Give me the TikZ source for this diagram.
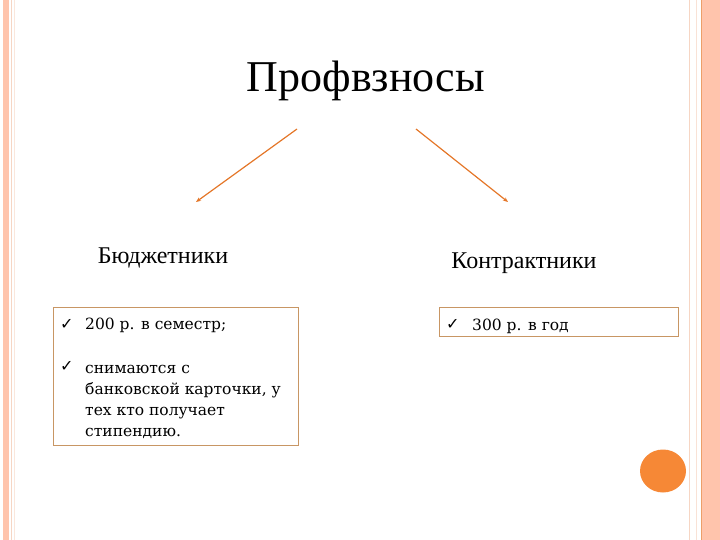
\documentclass[tikz,border=0pt]{standalone}
\usepackage{fontspec}
\setmainfont{Liberation Serif}
\newfontfamily\boxfont{DejaVu Serif}
\newfontfamily\chkfont{DejaVu Sans}
\usepackage{tikz}
\usetikzlibrary{arrows.meta,shapes.geometric}

\definecolor{salmon}{RGB}{255,196,172}
\definecolor{paleline}{RGB}{246,214,196}
\definecolor{arroworange}{RGB}{228,118,40}
\definecolor{boxline}{RGB}{200,150,100}
\definecolor{dotorange}{RGB}{246,136,54}
\newcommand{\chk}{{\chkfont\char"2713}}

\begin{document}
\begin{tikzpicture}[x=1pt,y=-1pt,
    heading/.style={anchor=base,inner sep=0pt,font=\fontsize{24}{28}\selectfont},
    itembox/.style={shape=rectangle,draw=boxline,line width=0.8pt,anchor=north west,inner sep=0pt},
    itemtext/.style={anchor=base west,inner sep=0pt,font=\boxfont\fontsize{15.5}{21.4}\selectfont},
    checkmark/.style={anchor=base west,inner sep=0pt,font=\fontsize{16}{18}\selectfont},
    toarrow/.style={draw=arroworange,line width=1.2pt,-{Stealth[length=5pt,width=4pt]}}]
    \useasboundingbox (0,0) rectangle (720,540);
    % page frame
    \fill[salmon] (3,0) rectangle (9,540);
    \draw[paleline,line width=1pt] (11,0) -- (11,540);
    \draw[paleline!60,line width=0.8pt] (14.5,0) -- (14.5,540);
    \draw[paleline,line width=1pt] (689.5,0) -- (689.5,540);
    \draw[paleline!70,line width=1pt] (696.5,0) -- (696.5,540);
    \fill[salmon] (701,0) rectangle (720,540);
    \draw[arroworange!70,line width=1pt] (701.5,0) -- (701.5,540);

    \node[heading,font=\fontsize{44}{50}\selectfont] (title) at (366,92) {Профвзносы};
    \node[heading] (budget) at (163,263) {Бюджетники};
    \node[heading] (contract) at (524,268) {Контрактники};

    \coordinate (la) at (297,129);
    \coordinate (lb) at (196,202);
    \coordinate (ra) at (416,129);
    \coordinate (rb) at (508,202);
    \draw[toarrow] (la) -- (lb);
    \draw[toarrow] (ra) -- (rb);

    % budget box
    \node[itembox,minimum width=245pt,minimum height=138pt] (B1) at (53,307) {};
    \node[checkmark] (ch1) at (60,329) {\chk};
    \node[itemtext] (it1) at (85,329) {200 р. в семестр;};
    \node[checkmark] (ch2) at (60,371) {\chk};
    \foreach \line [count=\i from 0] in {снимаются с, {банковской карточки, у}, тех кто получает, стипендию.}
        \node[itemtext] (it2-\i) at (85,{373+21.3*\i}) {\line};

    % contract box
    \node[itembox,minimum width=239pt,minimum height=29pt] (C1) at (439,307) {};
    \node[checkmark] (ch3) at (446,329) {\chk};
    \node[itemtext] (it3) at (472,330) {300 р. в год};

    \node[shape=ellipse,fill=dotorange,minimum width=46pt,minimum height=43pt,inner sep=0pt] (dot) at (663,471) {};
\end{tikzpicture}
\end{document}
